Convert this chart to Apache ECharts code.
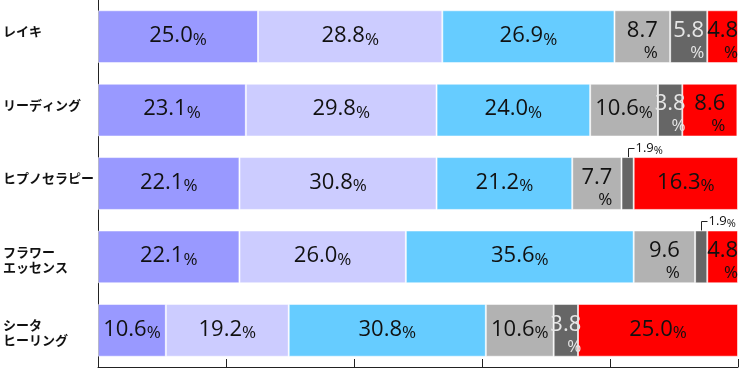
<!DOCTYPE html>
<html>
<head>
<meta charset="utf-8">
<script src="https://cdn.jsdelivr.net/npm/echarts@6/dist/echarts.min.js"></script>
<style>
html,body{margin:0;padding:0;background:#fff;}
#c{width:740px;height:369px;}
</style>
</head>
<body>
<div id="c"></div>
<script>
const categories = ['レイキ', 'リーディング', 'ヒプノセラピー', 'フラワー\nエッセンス', 'シータ\nヒーリング'];
const xTicks = [0, 20, 40, 60, 80, 100];
const s1 = [25.0, 23.1, 22.1, 22.1, 10.6];
const s2 = [28.8, 29.8, 30.8, 26.0, 19.2];
const s3 = [26.9, 24.0, 21.2, 35.6, 30.8];
const s4 = [8.7, 10.6, 7.7, 9.6, 10.6];
const s5 = [5.8, 3.8, 1.9, 1.9, 3.8];
const s6 = [4.8, 8.6, 16.3, 4.8, 25.0];

const seriesValues = [s1, s2, s3, s4, s5, s6];
const colors = ['#9999FF', '#CCCCFF', '#66CCFF', '#B2B2B2', '#666666', '#FF0000'];
const textColors = ['#111', '#111', '#111', '#111', '#E6E6E6', '#111'];
const FONT = '"Open Sans", "Noto Sans", sans-serif';
const BAR_RATIO = 0.72;

function labelFmt(p) {
  const v = p.value;
  const s = v.toFixed(1);
  if (v < 2) return '';
  if (v < 10) return '{n|' + s + '}\n{q|%}';
  return '{n|' + s + '}{p|%}';
}

function makeRich(col) {
  return {
    n: { fontSize: 22, fontFamily: FONT, color: col, lineHeight: 25 },
    p: { fontSize: 17, fontFamily: FONT, color: col, lineHeight: 21, verticalAlign: 'bottom' },
    q: { fontSize: 17, fontFamily: FONT, color: col, lineHeight: 20, align: 'right' }
  };
}

const barSeries = seriesValues.map((vals, i) => ({
  type: 'bar',
  stack: 'total',
  barCategoryGap: '28%',
  data: vals.map(v => ({
    value: v,
    label: { offset: v < 10 ? [0, 4] : [0, -1] }
  })),
  itemStyle: { color: colors[i], borderColor: 'rgba(255,255,255,0.55)', borderWidth: 1 },
  label: {
    show: true,
    position: 'inside',
    formatter: labelFmt,
    rich: makeRich(textColors[i])
  },
  emphasis: { disabled: true },
  animation: false
}));

// leader lines for tiny segments (series 5)
const leaderData = [];
s5.forEach((v, idx) => {
  if (v < 2) {
    const start = s1[idx] + s2[idx] + s3[idx] + s4[idx];
    leaderData.push([start + v / 2, idx, v]);
  }
});

const leaderSeries = {
  type: 'custom',
  data: leaderData,
  z: 5,
  animation: false,
  silent: true,
  renderItem: function (params, api) {
    const pt = api.coord([api.value(0), api.value(1)]);
    const band = api.size([0, 1])[1];
    const top = pt[1] - band * BAR_RATIO / 2;
    const x = Math.round(pt[0]) + 0.5;
    const yTop = Math.round(top - 9) + 0.5;
    return {
      type: 'group',
      children: [
        {
          type: 'polyline',
          shape: { points: [[x, top], [x, yTop], [x + 6, yTop]] },
          style: { stroke: '#222', lineWidth: 1, fill: null }
        },
        {
          type: 'text',
          x: x + 7,
          y: yTop,
          style: {
            text: '{n|' + api.value(2).toFixed(1) + '}{p|%}',
            rich: {
              n: { fontSize: 13, fontFamily: FONT, fill: '#111', lineHeight: 15 },
              p: { fontSize: 11, fontFamily: FONT, fill: '#111', lineHeight: 14, verticalAlign: 'bottom' }
            },
            verticalAlign: 'middle',
            align: 'left'
          }
        }
      ]
    };
  }
};

const chart = echarts.init(document.getElementById('c'), null, { renderer: 'canvas' });
chart.setOption({
  animation: false,
  grid: { left: 97, right: 2, top: 0, bottom: 2, containLabel: false },
  xAxis: {
    type: 'value',
    min: xTicks[0],
    max: xTicks[xTicks.length - 1],
    interval: xTicks[1] - xTicks[0],
    axisLine: { show: true, lineStyle: { color: '#222', width: 1 } },
    axisTick: { show: true, inside: true, length: 8, lineStyle: { color: '#222' } },
    axisLabel: { show: false },
    splitLine: { show: false }
  },
  yAxis: {
    type: 'category',
    inverse: true,
    data: categories,
    axisLine: { show: true, lineStyle: { color: '#222', width: 1 } },
    axisTick: { show: false },
    axisLabel: {
      align: 'left',
      margin: 95,
      formatter: function (v) {
        if (v.indexOf('\n') >= 0) {
          const parts = v.split('\n');
          return '{t|' + parts[0] + '}\n{b|' + parts[1] + '}';
        }
        return '{s|' + v + '}';
      },
      rich: {
        s: { fontSize: 13, fontWeight: 'bold', fontFamily: '"Noto Sans CJK JP"', color: '#111', lineHeight: 20, padding: [0, 0, 11, 0] },
        t: { fontSize: 13, fontWeight: 'bold', fontFamily: '"Noto Sans CJK JP"', color: '#111', lineHeight: 20, padding: [10, 0, 0, 0] },
        b: { fontSize: 13, fontWeight: 'bold', fontFamily: '"Noto Sans CJK JP"', color: '#111', lineHeight: 20 }
      }
    }
  },
  series: barSeries.concat([leaderSeries])
});
</script>
</body>
</html>
